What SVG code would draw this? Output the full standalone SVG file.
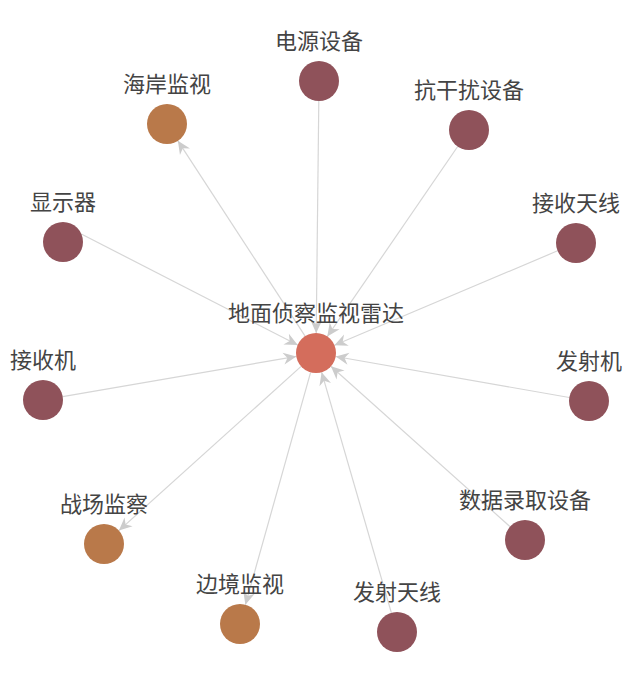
<svg xmlns="http://www.w3.org/2000/svg" width="636" height="684" viewBox="0 0 636 684">
<defs>
<marker id="arr" markerUnits="userSpaceOnUse" markerWidth="16" markerHeight="14" viewBox="-14 -7 15 14" refX="0" refY="0" orient="auto">
<path d="M0,0 L-13,-6 L-9,0 L-13,6 Z" fill="#cccccc"/>
</marker>
</defs>
<style>
.e{stroke:#d6d6d6;stroke-width:1.2;fill:none;marker-end:url(#arr)}
.p{fill:#8f525a}
.o{fill:#b9794a}
.c{fill:#d46d5c}
text{font-family:"Noto Sans CJK SC","Liberation Sans",sans-serif;font-size:22px;fill:#444;text-anchor:middle}
</style>
<rect width="636" height="684" fill="#fff"/>
<g id="edges">
<line class="e" x1="318.8" y1="101" x2="316.2" y2="333"/>
<line class="e" x1="457.7" y1="146.5" x2="327.3" y2="336.5"/>
<line class="e" x1="557.6" y1="250.8" x2="334.4" y2="345.2"/>
<line class="e" x1="569.3" y1="397.5" x2="335.7" y2="356.5"/>
<line class="e" x1="510.1" y1="526.7" x2="330.9" y2="366.3"/>
<line class="e" x1="391.4" y1="612.8" x2="321.6" y2="372.2"/>
<line class="e" x1="310.6" y1="372.3" x2="245.4" y2="604.7"/>
<line class="e" x1="301.1" y1="366.4" x2="118.9" y2="530.6"/>
<line class="e" x1="62.7" y1="396.6" x2="296.3" y2="356.4"/>
<line class="e" x1="81.3" y1="234" x2="297.7" y2="345"/>
<line class="e" x1="305.1" y1="336.2" x2="177.9" y2="140.8"/>
</g>
<g id="n0"><circle class="c" cx="316" cy="353" r="20"/><text x="316" y="321">地面侦察监视雷达</text></g>
<g id="n1"><circle class="p" cx="319" cy="81" r="20"/><text x="319" y="49">电源设备</text></g>
<g id="n2"><circle class="p" cx="469" cy="130" r="20"/><text x="469" y="98">抗干扰设备</text></g>
<g id="n3"><circle class="p" cx="576" cy="243" r="20"/><text x="576" y="211">接收天线</text></g>
<g id="n4"><circle class="p" cx="589" cy="401" r="20"/><text x="589" y="369">发射机</text></g>
<g id="n5"><circle class="p" cx="525" cy="540" r="20"/><text x="525" y="508">数据录取设备</text></g>
<g id="n6"><circle class="p" cx="397" cy="632" r="20"/><text x="397" y="600">发射天线</text></g>
<g id="n7"><circle class="o" cx="240" cy="624" r="20"/><text x="240" y="592">边境监视</text></g>
<g id="n8"><circle class="o" cx="104" cy="544" r="20"/><text x="104" y="512">战场监察</text></g>
<g id="n9"><circle class="p" cx="43" cy="400" r="20"/><text x="43" y="368">接收机</text></g>
<g id="n10"><circle class="p" cx="63" cy="242" r="20"/><text x="63" y="210">显示器</text></g>
<g id="n11"><circle class="o" cx="167" cy="124" r="20"/><text x="167" y="92">海岸监视</text></g>
</svg>
